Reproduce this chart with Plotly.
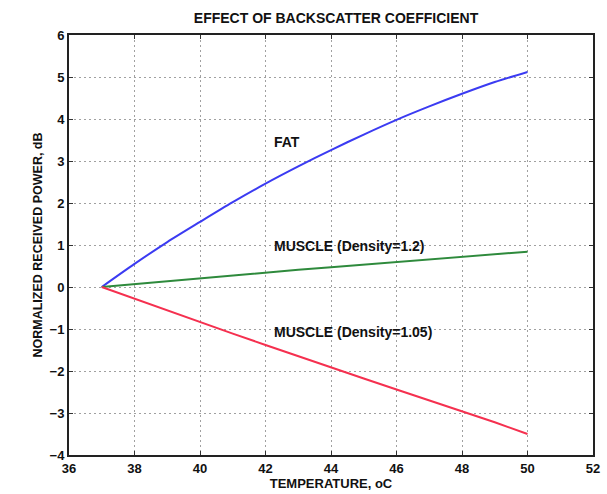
import plotly.graph_objects as go

# Temperature (°C) and normalized received power (dB) for each tissue model
temperature = [37, 38, 39, 40, 41, 42, 43, 44, 45, 46, 47, 48, 49, 50]
fat_db = [0.0, 0.55, 1.07, 1.55, 2.02, 2.46, 2.87, 3.26, 3.63, 3.98, 4.30, 4.60, 4.88, 5.12]
muscle_12_db = [0.0, 0.07, 0.14, 0.21, 0.28, 0.34, 0.41, 0.47, 0.53, 0.59, 0.65, 0.71, 0.77, 0.84]
muscle_105_db = [0.0, -0.28, -0.56, -0.84, -1.11, -1.38, -1.65, -1.92, -2.18, -2.44, -2.70, -2.96, -3.22, -3.50]

x_ticks = [36, 38, 40, 42, 44, 46, 48, 50, 52]
y_ticks = [-4, -3, -2, -1, 0, 1, 2, 3, 4, 5, 6]

# Curve annotations: (x, y, text)
labels = [
    (42.2, 3.45, "FAT"),
    (42.2, 0.97, "MUSCLE (Density=1.2)"),
    (42.2, -1.06, "MUSCLE (Density=1.05)"),
]

font_family = "Liberation Sans, Arial, sans-serif"
ink = "#111111"

fig = go.Figure()
fig.add_trace(go.Scatter(x=temperature, y=fat_db, mode="lines",
                         line=dict(color="#3b3bf2", width=2, shape="spline", smoothing=0.8)))
fig.add_trace(go.Scatter(x=temperature, y=muscle_12_db, mode="lines",
                         line=dict(color="#2e8a3c", width=2)))
fig.add_trace(go.Scatter(x=temperature, y=muscle_105_db, mode="lines",
                         line=dict(color="#f5304f", width=2)))

for x, y, t in labels:
    fig.add_annotation(x=x, y=y, text=t, showarrow=False, xanchor="left", yanchor="middle",
                       font=dict(family=font_family, size=14, color=ink, weight="bold"))

axis_common = dict(
    showline=True, linecolor="#222", linewidth=2, mirror="ticks",
    ticks="inside", ticklen=4, tickwidth=1, tickcolor="#333",
    showgrid=True, gridcolor="#a0a0a0", griddash="2px,3px", gridwidth=1,
    zeroline=False,
    tickfont=dict(family=font_family, size=13, color=ink, weight="bold"),
)

fig.update_xaxes(range=[36, 52], tickvals=x_ticks, ticktext=[str(v) for v in x_ticks],
                 title=dict(text="TEMPERATURE, oC", standoff=1,
                            font=dict(family=font_family, size=13, color=ink, weight="bold")),
                 **axis_common)
fig.update_yaxes(range=[-4, 6], tickvals=y_ticks,
                 ticktext=[("\u2212" + str(-v)) if v < 0 else str(v) for v in y_ticks],
                 title=dict(text="NORMALIZED RECEIVED POWER, dB", standoff=4,
                            font=dict(family=font_family, size=12.5, color=ink, weight="bold")),
                 **axis_common)

fig.update_layout(
    width=607, height=494,
    margin=dict(l=69, r=7, t=35, b=39),
    paper_bgcolor="white", plot_bgcolor="white",
    showlegend=False,
    title=dict(text="EFFECT OF BACKSCATTER COEFFICIENT", x=336 / 607, xanchor="center",
               y=1 - 18 / 494, yanchor="middle",
               font=dict(family=font_family, size=14, color=ink, weight="bold")),
)

fig.write_html("out.html")
